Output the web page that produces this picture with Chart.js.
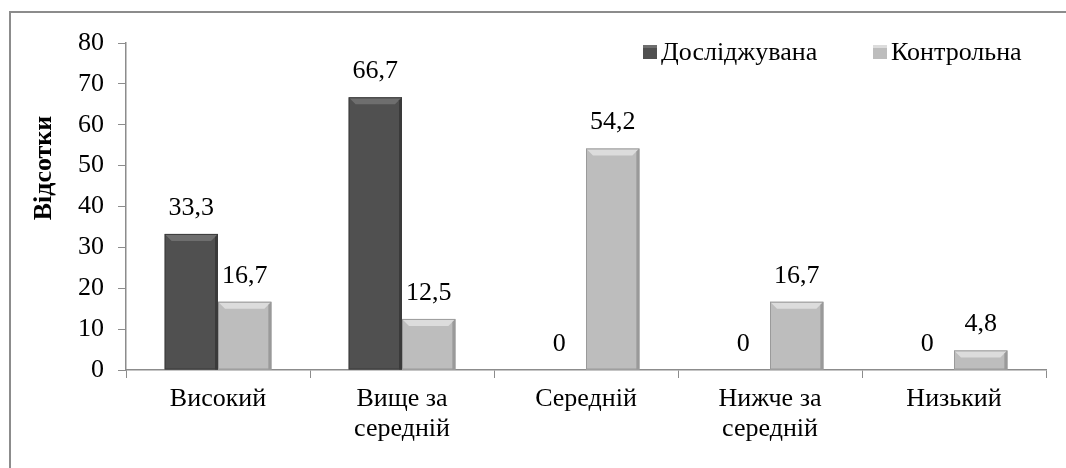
<!DOCTYPE html>
<html>
<head>
<meta charset="utf-8">
<script src="https://cdn.jsdelivr.net/npm/chart.js@4"></script>
<style>
  html, body { margin: 0; padding: 0; background: #fff; }
  #wrap { position: relative; width: 1066px; height: 468px; overflow: hidden; }
  #frame { position: absolute; left: 9px; top: 11px; width: 1100px; height: 500px;
           border-left: 2px solid #8c8c8c; border-top: 2px solid #8c8c8c; }
  canvas { position: absolute; left: 0; top: 0; }
</style>
</head>
<body>
<div id="wrap">
  <div id="frame"></div>
  <canvas id="chart" width="1066" height="468"></canvas>
</div>
<script>
(function () {
  'use strict';

  const categories = [['Високий'], ['Вище за', 'середній'], ['Середній'], ['Нижче за', 'середній'], ['Низький']];
  const studied = [33.3, 66.7, 0, 0, 0];
  const control = [16.7, 12.5, 54.2, 16.7, 4.8];
  const seriesNames = ['Досліджувана', 'Контрольна'];
  const yTicks = [0, 10, 20, 30, 40, 50, 60, 70, 80];
  const yTitle = 'Відсотки';

  const font = '"Liberation Serif", "Times New Roman", serif';
  const size = 26;
  const colors = ['#505050', '#bdbdbd'];
  const edges = ['#3a3a3a', '#9a9a9a'];
  const tops = ['#6e6e6e', '#dcdcdc'];

  const fmt = v => String(v).replace('.', ',');

  // bevelled bar look + value labels
  const bevel = {
    id: 'bevel',
    afterDatasetsDraw(chart) {
      const ctx = chart.ctx;
      chart.data.datasets.forEach((ds, di) => {
        chart.getDatasetMeta(di).data.forEach((bar, i) => {
          const h = bar.base - bar.y;
          const l = bar.x - bar.width / 2, r = bar.x + bar.width / 2;
          if (h > 1) {
            const b = Math.min(7, h / 2);
            ctx.save();
            ctx.fillStyle = tops[di];
            ctx.beginPath();
            ctx.moveTo(l, bar.y); ctx.lineTo(r, bar.y);
            ctx.lineTo(r - b, bar.y + b); ctx.lineTo(l + b, bar.y + b);
            ctx.closePath(); ctx.fill();
            ctx.fillStyle = edges[di];
            ctx.beginPath();
            ctx.moveTo(r, bar.y); ctx.lineTo(r, bar.base);
            ctx.lineTo(r - 3, bar.base); ctx.lineTo(r - 3, bar.y + 3);
            ctx.closePath(); ctx.fill();
            ctx.strokeStyle = edges[di];
            ctx.lineWidth = 1;
            ctx.strokeRect(l + 0.5, bar.y + 0.5, bar.width - 1, h - 1);
            ctx.restore();
          }
          ctx.save();
          ctx.font = size + 'px ' + font;
          ctx.fillStyle = '#000';
          ctx.textAlign = 'center';
          ctx.textBaseline = 'middle';
          ctx.fillText(fmt(ds.data[i]), bar.x, bar.y - 26);
          ctx.restore();
        });
      });
    },
    afterDraw(chart) {
      const ctx = chart.ctx;
      ctx.save();
      // legend
      ctx.font = size + 'px ' + font;
      ctx.textBaseline = 'middle';
      const items = [[643, 0], [873, 1]];
      items.forEach(([x, di]) => {
        ctx.fillStyle = colors[di];
        ctx.fillRect(x, 45, 14, 14);
        ctx.fillStyle = tops[di];
        ctx.fillRect(x, 45, 14, 3);
        ctx.fillStyle = '#000';
        ctx.fillText(seriesNames[di], x + 18, 53);
      });
      // y title
      ctx.font = 'bold ' + size + 'px ' + font;
      ctx.translate(44, 168);
      ctx.rotate(-Math.PI / 2);
      ctx.textAlign = 'center';
      ctx.fillText(yTitle, 0, 0);
      ctx.restore();
    }
  };

  new Chart(document.getElementById('chart'), {
    type: 'bar',
    data: {
      labels: categories,
      datasets: seriesNames.map((name, i) => ({
        label: name,
        data: i === 0 ? studied : control,
        backgroundColor: colors[i],
        borderWidth: 0,
        categoryPercentage: 0.58,
        barPercentage: 1,
      })),
    },
    options: {
      responsive: false,
      animation: false,
      layout: { padding: { left: 0, right: 20, top: 43, bottom: 0 } },
      plugins: { legend: { display: false }, tooltip: { enabled: false } },
      scales: {
        x: {
          grid: { display: true, drawOnChartArea: false, offset: true, tickLength: 8, color: '#8c8c8c' },
          border: { color: '#8c8c8c', width: 1.5 },
          ticks: { color: '#000', font: { family: font, size: size, lineHeight: 1.15 }, padding: 6, maxRotation: 0, autoSkip: false },
          afterFit(s) { s.height = 98; },
        },
        y: {
          min: 0, max: 80,
          afterBuildTicks(s) { s.ticks = yTicks.map(v => ({ value: v })); },
          grid: { display: true, drawOnChartArea: false, tickLength: 8, color: '#8c8c8c' },
          border: { color: '#8c8c8c', width: 1.5 },
          ticks: { color: '#000', font: { family: font, size: size }, padding: 14 },
          afterFit(s) { s.width = 126; },
        },
      },
    },
    plugins: [bevel],
  });
})();
</script>
</body>
</html>
